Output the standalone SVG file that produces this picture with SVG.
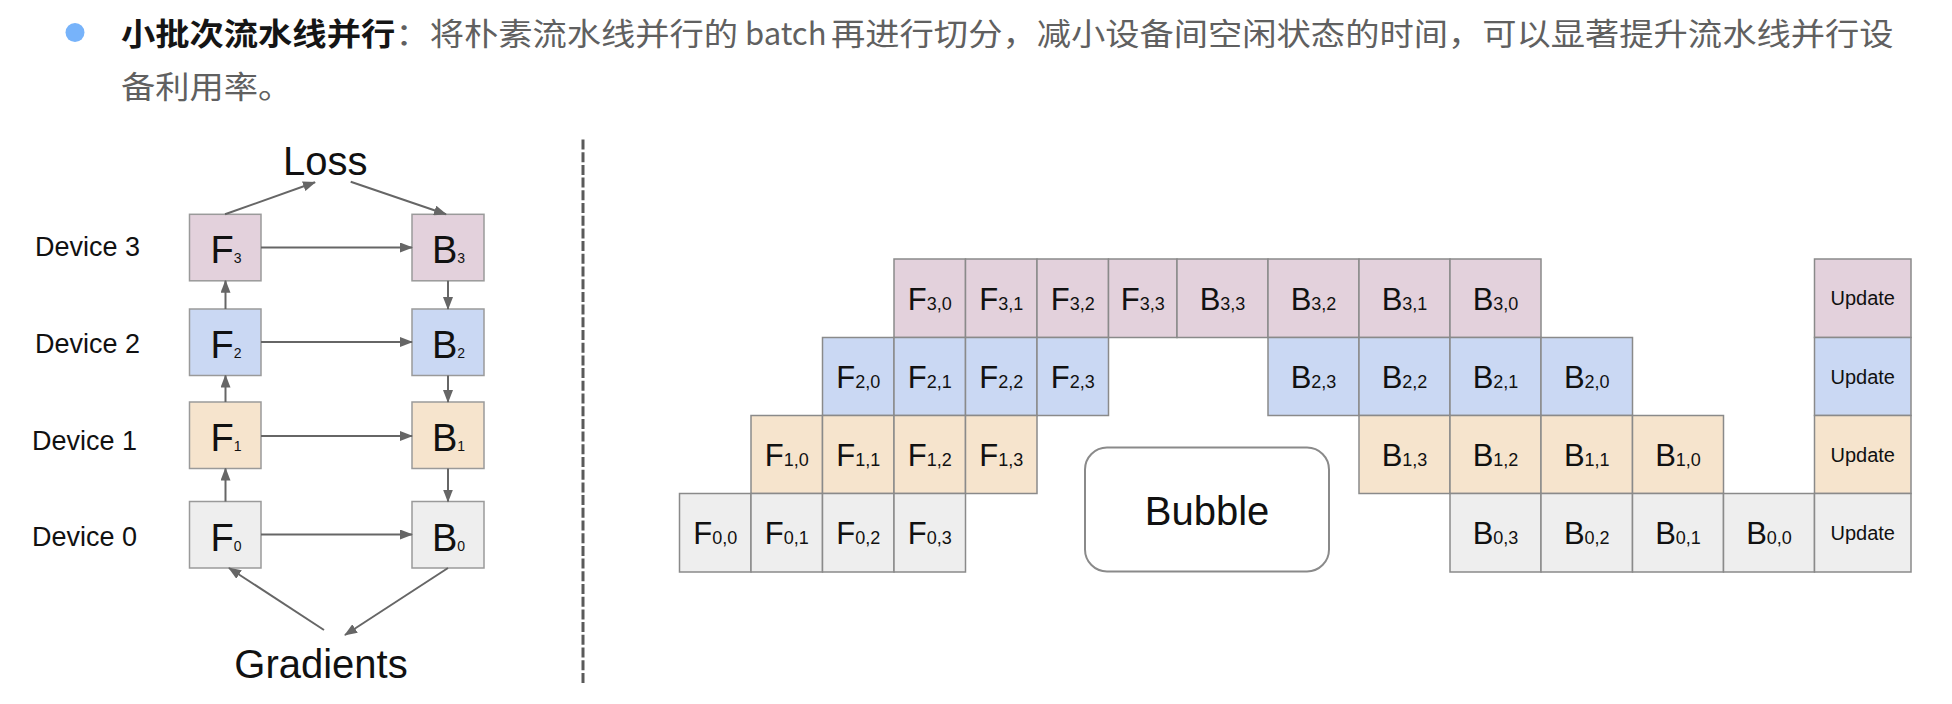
<svg xmlns="http://www.w3.org/2000/svg" width="1952" height="704" viewBox="0 0 1952 704">
<style>
.cjk{font-family:"Noto Sans CJK SC","Noto Sans",sans-serif;font-size:31px}
.bold{fill:#151515;font-weight:bold}
.gray{fill:#606060}
.lbl{font-family:"Liberation Sans",Arial,sans-serif;fill:#111}
.big{font-size:40px}
.dev{font-size:27px}
.lf{font-size:38px}
.ls{font-size:14px}
.cf{font-size:31px}
.csub{font-size:18px}
.up{font-size:20px}
.p{fill:#e3d1dc}
.b{fill:#cad8f3}
.o{fill:#f6e4cd}
.g{fill:#eeeeee}
.lb{stroke:#9a9a9a;stroke-width:1.5}
.cell{stroke:#8a8a8a;stroke-width:1.5}
.arr{stroke:#666;stroke-width:2;fill:none;marker-end:url(#ah)}
</style>
<defs>
<marker id="ah" markerUnits="userSpaceOnUse" markerWidth="13" markerHeight="10" refX="12" refY="5" orient="auto">
<path d="M0,0 L13,5 L0,10 z" fill="#666"/>
</marker>
</defs>
<rect width="1952" height="704" fill="#fff"/>

<g id="header">
<circle cx="75" cy="32.5" r="9.5" fill="#77b3fa"/>
<text class="cjk" y="45.5" transform="scale(1.106,1)"><tspan class="bold" x="109.4">小批次流水线并行</tspan><tspan class="gray" x="357.5">：将朴素流水线并行的</tspan><tspan class="gray" x="751.4">再进行切分，减小设备间空闲状态的时间，可以显著提升流水线并行设</tspan></text>
<text class="cjk gray" x="745" y="45">batch</text>
<text class="cjk gray" x="109.4" y="98" transform="scale(1.106,1)">备利用率。</text>
</g>

<g id="left-labels">
<text class="lbl big" x="283" y="175">Loss</text>
<text class="lbl big" x="321" y="678" text-anchor="middle">Gradients</text>
<text class="lbl dev" x="35" y="256">Device 3</text>
<text class="lbl dev" x="35" y="353">Device 2</text>
<text class="lbl dev" x="32" y="450">Device 1</text>
<text class="lbl dev" x="32" y="546">Device 0</text>
</g>

<g id="F3"><rect class="p lb" x="189.5" y="214.3" width="71.5" height="66.5"/><text class="lbl lf" x="226" y="263.3" text-anchor="middle">F<tspan class="ls">3</tspan></text></g>
<g id="B3"><rect class="p lb" x="412" y="214.3" width="72" height="66.5"/><text class="lbl lf" x="448.5" y="263.3" text-anchor="middle">B<tspan class="ls">3</tspan></text></g>
<g id="F2"><rect class="b lb" x="189.5" y="309" width="71.5" height="66.5"/><text class="lbl lf" x="226" y="358" text-anchor="middle">F<tspan class="ls">2</tspan></text></g>
<g id="B2"><rect class="b lb" x="412" y="309" width="72" height="66.5"/><text class="lbl lf" x="448.5" y="358" text-anchor="middle">B<tspan class="ls">2</tspan></text></g>
<g id="F1"><rect class="o lb" x="189.5" y="402" width="71.5" height="66.5"/><text class="lbl lf" x="226" y="451" text-anchor="middle">F<tspan class="ls">1</tspan></text></g>
<g id="B1"><rect class="o lb" x="412" y="402" width="72" height="66.5"/><text class="lbl lf" x="448.5" y="451" text-anchor="middle">B<tspan class="ls">1</tspan></text></g>
<g id="F0"><rect class="g lb" x="189.5" y="501.5" width="71.5" height="66.5"/><text class="lbl lf" x="226" y="550.5" text-anchor="middle">F<tspan class="ls">0</tspan></text></g>
<g id="B0"><rect class="g lb" x="412" y="501.5" width="72" height="66.5"/><text class="lbl lf" x="448.5" y="550.5" text-anchor="middle">B<tspan class="ls">0</tspan></text></g>

<g id="connectors">
<line class="arr" x1="225" y1="214.3" x2="315" y2="182.3"/>
<line class="arr" x1="350.7" y1="181.7" x2="446" y2="214.3"/>
<line class="arr" x1="261" y1="247.5" x2="412" y2="247.5"/>
<line class="arr" x1="261" y1="342" x2="412" y2="342"/>
<line class="arr" x1="261" y1="436" x2="412" y2="436"/>
<line class="arr" x1="261" y1="534.5" x2="412" y2="534.5"/>
<line class="arr" x1="225.5" y1="309" x2="225.5" y2="280.8"/>
<line class="arr" x1="225.5" y1="402" x2="225.5" y2="375.5"/>
<line class="arr" x1="225.5" y1="501.5" x2="225.5" y2="468.5"/>
<line class="arr" x1="448" y1="280.8" x2="448" y2="309"/>
<line class="arr" x1="448" y1="375.5" x2="448" y2="402"/>
<line class="arr" x1="448" y1="468.5" x2="448" y2="501.5"/>
<line class="arr" x1="324" y1="630" x2="229" y2="568"/>
<line class="arr" x1="448" y1="568" x2="345" y2="635"/>
</g>

<line id="divider" x1="583" y1="139.5" x2="583" y2="684" stroke="#5a5a5a" stroke-width="3" stroke-dasharray="10 2.7"/>

<g id="bubble"><rect x="1085" y="447.5" width="244" height="124" rx="22" fill="#fff" stroke="#8a8a8a" stroke-width="2"/><text class="lbl big" x="1207" y="525" text-anchor="middle">Bubble</text></g>

<g id="row3">
<g id="F30"><rect class="p cell" x="894" y="259" width="71.5" height="78.5"/><text class="lbl cf" x="929.75" y="309.5" text-anchor="middle">F<tspan class="csub">3,0</tspan></text></g>
<g id="F31"><rect class="p cell" x="965.5" y="259" width="71.5" height="78.5"/><text class="lbl cf" x="1001.25" y="309.5" text-anchor="middle">F<tspan class="csub">3,1</tspan></text></g>
<g id="F32"><rect class="p cell" x="1037" y="259" width="71.5" height="78.5"/><text class="lbl cf" x="1072.75" y="309.5" text-anchor="middle">F<tspan class="csub">3,2</tspan></text></g>
<g id="F33"><rect class="p cell" x="1108.5" y="259" width="68.5" height="78.5"/><text class="lbl cf" x="1142.75" y="309.5" text-anchor="middle">F<tspan class="csub">3,3</tspan></text></g>
<g id="B33"><rect class="p cell" x="1177" y="259" width="91" height="78.5"/><text class="lbl cf" x="1222.5" y="309.5" text-anchor="middle">B<tspan class="csub">3,3</tspan></text></g>
<g id="B32"><rect class="p cell" x="1268" y="259" width="91" height="78.5"/><text class="lbl cf" x="1313.5" y="309.5" text-anchor="middle">B<tspan class="csub">3,2</tspan></text></g>
<g id="B31"><rect class="p cell" x="1359" y="259" width="91" height="78.5"/><text class="lbl cf" x="1404.5" y="309.5" text-anchor="middle">B<tspan class="csub">3,1</tspan></text></g>
<g id="B30"><rect class="p cell" x="1450" y="259" width="91" height="78.5"/><text class="lbl cf" x="1495.5" y="309.5" text-anchor="middle">B<tspan class="csub">3,0</tspan></text></g>
<g id="U3"><rect class="p cell" x="1814.5" y="259" width="96.5" height="78.5"/><text class="lbl up" x="1862.75" y="305" text-anchor="middle">Update</text></g>
</g>

<g id="row2">
<g id="F20"><rect class="b cell" x="822.5" y="337.5" width="71.5" height="78"/><text class="lbl cf" x="858.25" y="388" text-anchor="middle">F<tspan class="csub">2,0</tspan></text></g>
<g id="F21"><rect class="b cell" x="894" y="337.5" width="71.5" height="78"/><text class="lbl cf" x="929.75" y="388" text-anchor="middle">F<tspan class="csub">2,1</tspan></text></g>
<g id="F22"><rect class="b cell" x="965.5" y="337.5" width="71.5" height="78"/><text class="lbl cf" x="1001.25" y="388" text-anchor="middle">F<tspan class="csub">2,2</tspan></text></g>
<g id="F23"><rect class="b cell" x="1037" y="337.5" width="71.5" height="78"/><text class="lbl cf" x="1072.75" y="388" text-anchor="middle">F<tspan class="csub">2,3</tspan></text></g>
<g id="B23"><rect class="b cell" x="1268" y="337.5" width="91" height="78"/><text class="lbl cf" x="1313.5" y="388" text-anchor="middle">B<tspan class="csub">2,3</tspan></text></g>
<g id="B22"><rect class="b cell" x="1359" y="337.5" width="91" height="78"/><text class="lbl cf" x="1404.5" y="388" text-anchor="middle">B<tspan class="csub">2,2</tspan></text></g>
<g id="B21"><rect class="b cell" x="1450" y="337.5" width="91" height="78"/><text class="lbl cf" x="1495.5" y="388" text-anchor="middle">B<tspan class="csub">2,1</tspan></text></g>
<g id="B20"><rect class="b cell" x="1541" y="337.5" width="91.5" height="78"/><text class="lbl cf" x="1586.75" y="388" text-anchor="middle">B<tspan class="csub">2,0</tspan></text></g>
<g id="U2"><rect class="b cell" x="1814.5" y="337.5" width="96.5" height="78"/><text class="lbl up" x="1862.75" y="383.5" text-anchor="middle">Update</text></g>
</g>

<g id="row1">
<g id="F10"><rect class="o cell" x="751" y="415.5" width="71.5" height="78"/><text class="lbl cf" x="786.75" y="466" text-anchor="middle">F<tspan class="csub">1,0</tspan></text></g>
<g id="F11"><rect class="o cell" x="822.5" y="415.5" width="71.5" height="78"/><text class="lbl cf" x="858.25" y="466" text-anchor="middle">F<tspan class="csub">1,1</tspan></text></g>
<g id="F12"><rect class="o cell" x="894" y="415.5" width="71.5" height="78"/><text class="lbl cf" x="929.75" y="466" text-anchor="middle">F<tspan class="csub">1,2</tspan></text></g>
<g id="F13"><rect class="o cell" x="965.5" y="415.5" width="71.5" height="78"/><text class="lbl cf" x="1001.25" y="466" text-anchor="middle">F<tspan class="csub">1,3</tspan></text></g>
<g id="B13"><rect class="o cell" x="1359" y="415.5" width="91" height="78"/><text class="lbl cf" x="1404.5" y="466" text-anchor="middle">B<tspan class="csub">1,3</tspan></text></g>
<g id="B12"><rect class="o cell" x="1450" y="415.5" width="91" height="78"/><text class="lbl cf" x="1495.5" y="466" text-anchor="middle">B<tspan class="csub">1,2</tspan></text></g>
<g id="B11"><rect class="o cell" x="1541" y="415.5" width="91.5" height="78"/><text class="lbl cf" x="1586.75" y="466" text-anchor="middle">B<tspan class="csub">1,1</tspan></text></g>
<g id="B10"><rect class="o cell" x="1632.5" y="415.5" width="91" height="78"/><text class="lbl cf" x="1678" y="466" text-anchor="middle">B<tspan class="csub">1,0</tspan></text></g>
<g id="U1"><rect class="o cell" x="1814.5" y="415.5" width="96.5" height="78"/><text class="lbl up" x="1862.75" y="461.5" text-anchor="middle">Update</text></g>
</g>

<g id="row0">
<g id="F00"><rect class="g cell" x="679.5" y="493.5" width="71.5" height="78.5"/><text class="lbl cf" x="715.25" y="544" text-anchor="middle">F<tspan class="csub">0,0</tspan></text></g>
<g id="F01"><rect class="g cell" x="751" y="493.5" width="71.5" height="78.5"/><text class="lbl cf" x="786.75" y="544" text-anchor="middle">F<tspan class="csub">0,1</tspan></text></g>
<g id="F02"><rect class="g cell" x="822.5" y="493.5" width="71.5" height="78.5"/><text class="lbl cf" x="858.25" y="544" text-anchor="middle">F<tspan class="csub">0,2</tspan></text></g>
<g id="F03"><rect class="g cell" x="894" y="493.5" width="71.5" height="78.5"/><text class="lbl cf" x="929.75" y="544" text-anchor="middle">F<tspan class="csub">0,3</tspan></text></g>
<g id="B03"><rect class="g cell" x="1450" y="493.5" width="91" height="78.5"/><text class="lbl cf" x="1495.5" y="544" text-anchor="middle">B<tspan class="csub">0,3</tspan></text></g>
<g id="B02"><rect class="g cell" x="1541" y="493.5" width="91.5" height="78.5"/><text class="lbl cf" x="1586.75" y="544" text-anchor="middle">B<tspan class="csub">0,2</tspan></text></g>
<g id="B01"><rect class="g cell" x="1632.5" y="493.5" width="91" height="78.5"/><text class="lbl cf" x="1678" y="544" text-anchor="middle">B<tspan class="csub">0,1</tspan></text></g>
<g id="B00"><rect class="g cell" x="1723.5" y="493.5" width="91" height="78.5"/><text class="lbl cf" x="1769" y="544" text-anchor="middle">B<tspan class="csub">0,0</tspan></text></g>
<g id="U0"><rect class="g cell" x="1814.5" y="493.5" width="96.5" height="78.5"/><text class="lbl up" x="1862.75" y="539.5" text-anchor="middle">Update</text></g>
</g>
</svg>
